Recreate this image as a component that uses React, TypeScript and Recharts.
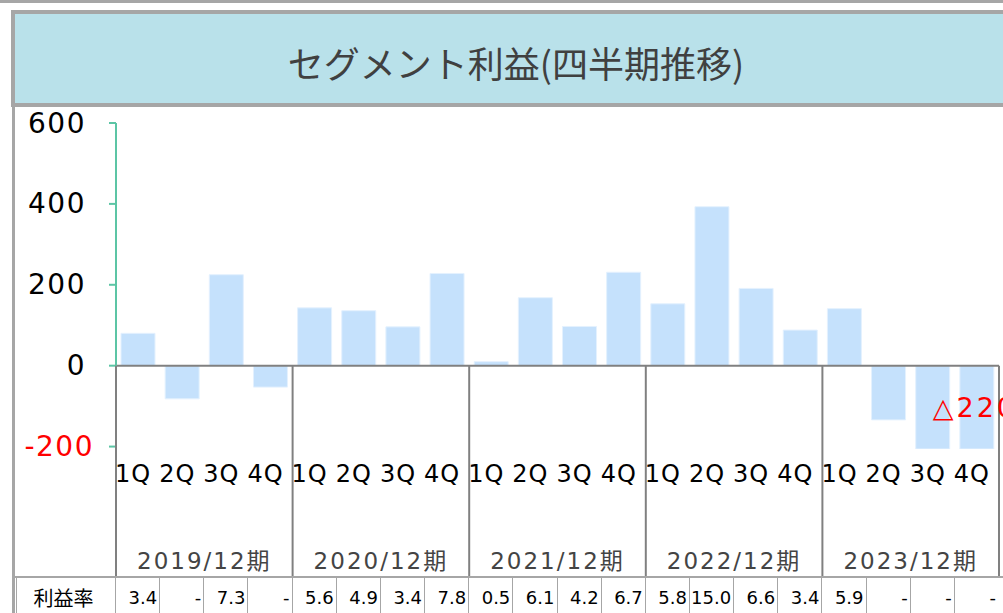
import React from "react";
import {
  BarChart,
  Bar,
  XAxis,
  YAxis,
  ReferenceLine,
  LabelList,
} from "recharts";

const QUARTERS = ["1Q", "2Q", "3Q", "4Q"];
const YEARS = ["2019/12期", "2020/12期", "2021/12期", "2022/12期", "2023/12期"];
const PROFIT = [80, -82, 225, -53, 143, 136, 96, 228, 10, 168, 97, 231, 153, 393, 191, 88, 141, -134, -206, -206];
const BAR_LABELS = ["", "", "", "", "", "", "", "", "", "", "", "", "", "", "", "", "", "", "", "△220"];
const MARGIN_RATE = ["3.4", "-", "7.3", "-", "5.6", "4.9", "3.4", "7.8", "0.5", "6.1", "4.2", "6.7", "5.8", "15.0", "6.6", "3.4", "5.9", "-", "-", "-"];
const Y_TICKS = [-200, 0, 200, 400, 600];

const W = 1003;
const H = 613;
const CHART_H = 577;
const PLOT_LEFT = 116;
const PLOT_TOP = 123;
const RIGHT = 4;
const Q_AXIS_H = 48;
const YEAR_AXIS_H = 80;
const PLOT_BOTTOM = CHART_H - Q_AXIS_H - YEAR_AXIS_H;
const PLOT_W = W - PLOT_LEFT - RIGHT;
const BAND = PLOT_W / PROFIT.length;
const Y_MIN = -206;
const Y_MAX = 600;
const ZERO_Y = PLOT_TOP + ((PLOT_BOTTOM - PLOT_TOP) * Y_MAX) / (Y_MAX - Y_MIN);

const FONT = "'DejaVu Sans', 'Noto Sans CJK JP', sans-serif";
const GRID = "#a6a6a6";

const data = PROFIT.map((v, i) => ({
  q: QUARTERS[i % 4],
  year: YEARS[Math.floor(i / 4)],
  v,
  label: BAR_LABELS[i],
}));

function YTick(props: any) {
  const { x, y, payload } = props;
  const neg = payload.value < 0;
  return (
    <text
      x={neg ? x + 8 : x}
      y={y}
      textAnchor="end"
      dominantBaseline="central"
      fontSize={28}
      letterSpacing={1.5}
      fontFamily={FONT}
      fill={neg ? "#ff0000" : "#000000"}
    >
      {payload.value}
    </text>
  );
}

function QuarterTick(props: any) {
  const { x, y, payload } = props;
  return (
    <text
      x={x - 5}
      y={y + 25}
      textAnchor="middle"
      dominantBaseline="central"
      fontSize={24}
      letterSpacing={1}
      fontFamily={FONT}
      fill="#000000"
    >
      {payload.value}
    </text>
  );
}

function YearTick(props: any) {
  const { x, y, index } = props;
  const left = x - BAND / 2;
  const parts: React.ReactNode[] = [];
  if (index % 4 === 0) {
    parts.push(
      <line key="l" x1={left} x2={left} y1={ZERO_Y} y2={CHART_H} stroke="#808080" strokeWidth={2} />
    );
    parts.push(
      <text
        key="t"
        x={left + BAND * 2}
        y={y + 64}
        textAnchor="middle"
        dominantBaseline="central"
        fontSize={23}
        letterSpacing={2}
        fontFamily={FONT}
        fill="#444444"
      >
        {YEARS[index / 4]}
      </text>
    );
  }
  if (index === PROFIT.length - 1) {
    const right = x + BAND / 2;
    parts.push(
      <line key="r" x1={right} x2={right} y1={ZERO_Y} y2={CHART_H} stroke="#808080" strokeWidth={2} />
    );
  }
  return <g>{parts}</g>;
}

function RateRow() {
  return (
    <div
      style={{
        position: "absolute",
        left: 0,
        top: 576,
        width: W,
        height: H - 576,
        fontFamily: FONT,
      }}
    >
      <div style={{ position: "absolute", left: 12, top: 0, width: W, height: 2, background: GRID }} />
      <div
        style={{
          position: "absolute",
          left: 12,
          top: 2,
          width: PLOT_LEFT - 13,
          height: 40,
          lineHeight: "40px",
          textAlign: "center",
          fontSize: 20,
          fontFamily: "'Noto Sans CJK JP', sans-serif",
          color: "#000",
        }}
      >
        利益率
      </div>
      <div style={{ position: "absolute", left: 16, top: 2, width: 1, height: 40, background: GRID }} />
      {MARGIN_RATE.map((r, i) => (
        <div
          key={i}
          style={{
            position: "absolute",
            left: PLOT_LEFT - 1 + i * BAND,
            top: 2,
            width: BAND,
            height: 40,
            boxSizing: "border-box",
            borderLeft: `1.5px solid ${GRID}`,
            textAlign: "right",
            paddingRight: 2,
            fontSize: 18,
            lineHeight: "40px",
            color: "#000",
          }}
        >
          {r}
        </div>
      ))}
    </div>
  );
}

export default function App() {
  return (
    <div
      style={{
        position: "absolute",
        left: 0,
        top: 0,
        width: W,
        height: H,
        overflow: "hidden",
        background: "#ffffff",
      }}
    >
      <div style={{ position: "absolute", left: 0, top: 0, width: W, height: 3, background: GRID }} />
      <div
        style={{
          position: "absolute",
          left: 11,
          top: 10,
          width: 1010,
          height: 97,
          boxSizing: "border-box",
          border: `4px solid ${GRID}`,
          background: "#b9e1ea",
          display: "flex",
          alignItems: "center",
          justifyContent: "center",
          paddingTop: 6,
          fontSize: 36,
          color: "#404040",
          fontFamily: "'Noto Sans CJK JP', sans-serif",
        }}
      >
        セグメント利益(四半期推移)
      </div>
      <div style={{ position: "absolute", left: 12, top: 107, width: 3, height: H, background: GRID }} />
      <div style={{ position: "absolute", left: 0, top: 0 }}>
        <BarChart
          width={W}
          height={CHART_H}
          data={data}
          margin={{ top: PLOT_TOP, right: RIGHT, left: 0, bottom: 0 }}
          barSize={34}
        >
          <YAxis
            domain={[Y_MIN, Y_MAX]}
            ticks={Y_TICKS}
            interval={0}
            width={PLOT_LEFT}
            allowDataOverflow
            tickSize={7}
            tickMargin={23}
            axisLine={{ stroke: "#5cc5a5", strokeWidth: 2 }}
            tickLine={{ stroke: "#5cc5a5", strokeWidth: 2 }}
            tick={<YTick />}
          />
          <XAxis
            xAxisId="q"
            dataKey="q"
            interval={0}
            height={Q_AXIS_H}
            axisLine={false}
            tickLine={false}
            tickSize={0}
            tickMargin={0}
            tick={<QuarterTick />}
          />
          <XAxis
            xAxisId="year"
            dataKey="year"
            interval={0}
            height={YEAR_AXIS_H}
            axisLine={false}
            tickLine={false}
            tickSize={0}
            tickMargin={0}
            tick={<YearTick />}
          />
          <Bar
            xAxisId="q"
            dataKey="v"
            fill="#c5e1fc"
            stroke="#e4f1fe"
            strokeWidth={1}
            isAnimationActive={false}
          >
            <LabelList
              dataKey="label"
              position="center"
              dx={-2}
              fontSize={27}
              letterSpacing={3}
              fontFamily={FONT}
              fill="#ff0000"
            />
          </Bar>
          <ReferenceLine xAxisId="q" y={0} stroke="#808080" strokeWidth={2} />
        </BarChart>
      </div>
      <RateRow />
    </div>
  );
}
